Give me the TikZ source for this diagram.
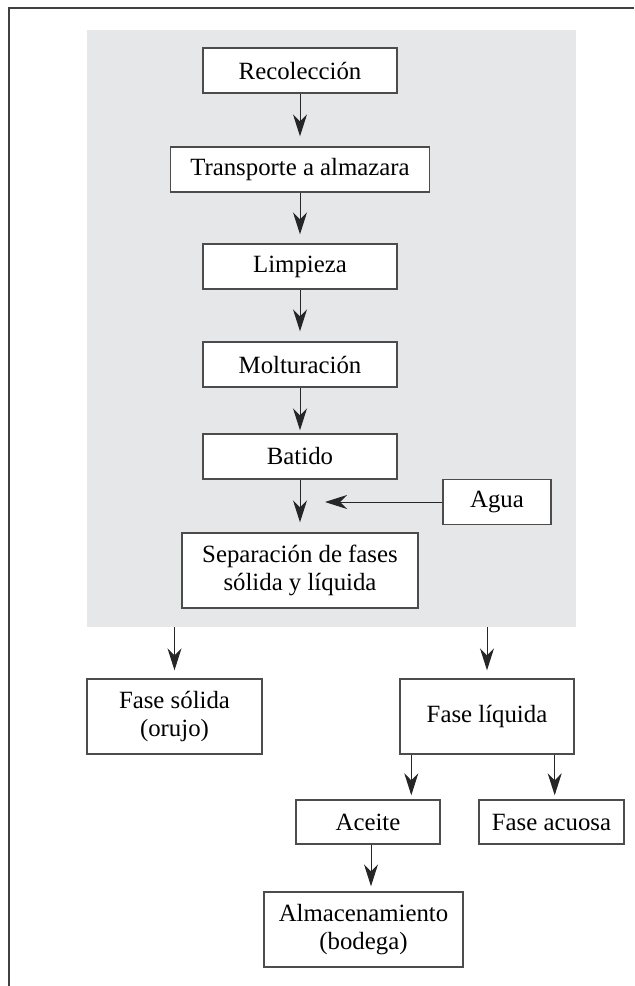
\documentclass[tikz,border=0pt]{standalone}
\usepackage{fontspec}
\setmainfont{Liberation Serif}
\usetikzlibrary{arrows.meta}
\definecolor{fondogris}{RGB}{230,231,232}

\begin{document}
\begin{tikzpicture}[x=0.5pt,y=0.5pt,
		paso/.style={draw=black!70,line width=0.7pt,fill=white,inner sep=0pt,minimum height=22.5pt,font=\fontsize{12.4}{13.6}\selectfont,align=center},
		flecha/.style={draw=black!85,line width=0.5pt,-{Stealth[length=11pt,width=7pt,inset=3.5pt]}},
		panel/.style={fill=fondogris,inner sep=0pt}]
		\useasboundingbox (0,0) rectangle (634,-986);
		\draw[black!75,line width=0.8pt] (9,-986) -- (9,-8) -- (634,-8);
		\node[panel,minimum width=244.5pt,minimum height=298.5pt] (fondo) at (331.5,-328.5) {};
		% proceso en almazara
		\node[paso,minimum width=97pt] (recoleccion) at (300,-70.5) {Recolección};
		\node[paso,minimum width=129.5pt] (transporte) at (300,-169.5) {Transporte a almazara};
		\node[paso,minimum width=97pt] (limpieza) at (300,-266.5) {Limpieza};
		\node[paso,minimum width=97pt] (molturacion) at (300,-364.5) {Molturación};
		\node[paso,minimum width=97pt] (batido) at (300,-456.5) {Batido};
		\node[paso,minimum width=54pt] (agua) at (497,-502) {Agua};
		\node[paso,minimum width=118pt,minimum height=37.5pt] (separacion) at (300,-570.5) {Separación de fases\\sólida y líquida};
		\coordinate (entrada) at (325,-502);
		\draw[flecha,shorten >=5pt] (recoleccion) -- (transporte);
		\draw[flecha,shorten >=4.5pt] (transporte) -- (limpieza);
		\draw[flecha,shorten >=5pt] (limpieza) -- (molturacion);
		\draw[flecha,shorten >=1.5pt] (molturacion) -- (batido);
		\draw[flecha,shorten >=5pt] (batido) -- (separacion);
		\draw[flecha] (agua) -- (entrada);
		% fases
		\node[paso,minimum width=87.5pt,minimum height=37.5pt] (solida) at (174.5,-716.5) {Fase sólida\\(orujo)};
		\node[paso,minimum width=87pt,minimum height=37.5pt] (liquida) at (487,-716.5) {Fase líquida};
		\node[paso,minimum width=72pt,minimum height=22pt] (aceite) at (368,-822) {Aceite};
		\node[paso,minimum width=72.5pt,minimum height=22pt] (acuosa) at (551.5,-822) {Fase acuosa};
		\node[paso,minimum width=99.5pt,minimum height=37.5pt] (almacen) at (363.5,-929.5) {Almacenamiento\\(bodega)};
		\draw[flecha,shorten >=4pt] (fondo.south -| solida) -- (solida);
		\draw[flecha,shorten >=4pt] (fondo.south -| liquida) -- (liquida);
		\draw[flecha,shorten >=2pt] ([xshift=6pt]liquida.south west) -- ([xshift=6pt]liquida.south west |- aceite.north);
		\draw[flecha,shorten >=2pt] ([xshift=-10pt]liquida.south east) -- ([xshift=-10pt]liquida.south east |- acuosa.north);
		\draw[flecha,shorten >=2.5pt] ([xshift=1.5pt]aceite.south) -- ([xshift=1.5pt]aceite.south |- almacen.north);
\end{tikzpicture}
\end{document}
